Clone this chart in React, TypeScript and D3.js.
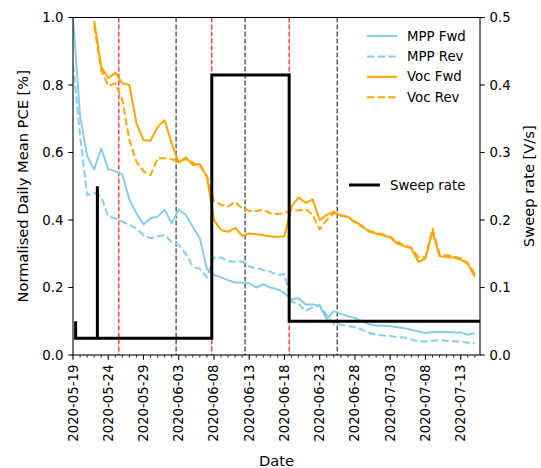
import React from "react";
import * as d3 from "d3";

const START = "2020-05-19";
const END_DAYS = 57.74;

const mppFwd = [1.0, 0.71, 0.59, 0.55, 0.612, 0.55, 0.545, 0.535, 0.46, 0.42, 0.387, 0.405, 0.41, 0.43, 0.39, 0.43, 0.415, 0.38, 0.345, 0.255, 0.237, 0.23, 0.222, 0.215, 0.215, 0.212, 0.2, 0.21, 0.2, 0.195, 0.183, 0.165, 0.168, 0.15, 0.15, 0.145, 0.106, 0.13, 0.122, 0.115, 0.11, 0.1, 0.092, 0.087, 0.087, 0.085, 0.082, 0.079, 0.075, 0.07, 0.065, 0.068, 0.068, 0.068, 0.067, 0.067, 0.06, 0.065];

const mppRev = [0.86, 0.65, 0.474, 0.48, 0.47, 0.41, 0.405, 0.395, 0.385, 0.375, 0.355, 0.346, 0.352, 0.356, 0.335, 0.326, 0.3, 0.262, 0.255, 0.23, 0.289, 0.289, 0.278, 0.276, 0.278, 0.262, 0.258, 0.252, 0.247, 0.237, 0.24, 0.158, 0.152, 0.131, 0.142, 0.148, 0.118, 0.092, 0.09, 0.085, 0.083, 0.075, 0.065, 0.06, 0.058, 0.056, 0.053, 0.052, 0.046, 0.04, 0.04, 0.042, 0.044, 0.042, 0.041, 0.04, 0.036, 0.035];

// Voc series start on day 3
const VOC_START_DAY = 3;
const vocFwd = [0.99, 0.855, 0.82, 0.836, 0.805, 0.8, 0.687, 0.637, 0.635, 0.676, 0.696, 0.627, 0.57, 0.585, 0.563, 0.566, 0.528, 0.4, 0.37, 0.365, 0.377, 0.353, 0.36, 0.358, 0.355, 0.352, 0.35, 0.352, 0.44, 0.467, 0.451, 0.461, 0.4, 0.415, 0.425, 0.412, 0.41, 0.395, 0.383, 0.365, 0.36, 0.355, 0.348, 0.33, 0.322, 0.316, 0.276, 0.286, 0.365, 0.293, 0.29, 0.289, 0.283, 0.27, 0.232];

const vocRev = [0.975, 0.844, 0.797, 0.805, 0.756, 0.637, 0.573, 0.545, 0.533, 0.583, 0.583, 0.58, 0.575, 0.58, 0.57, 0.56, 0.53, 0.457, 0.445, 0.44, 0.454, 0.435, 0.427, 0.427, 0.43, 0.42, 0.418, 0.42, 0.43, 0.428, 0.432, 0.415, 0.372, 0.4, 0.42, 0.415, 0.408, 0.393, 0.38, 0.368, 0.362, 0.357, 0.35, 0.335, 0.325, 0.318, 0.29, 0.29, 0.375, 0.298, 0.295, 0.292, 0.287, 0.273, 0.24];

const sweepTimes = ["2020-05-19T09:00", "2020-05-19T09:00", "2020-05-22T11:00", "2020-05-22T11:00", "2020-05-22T11:00", "2020-06-07T16:30", "2020-06-07T16:30", "2020-06-18T16:00", "2020-06-18T16:00", "2020-07-15T18:00"];
const sweepValues = [0.05, 0.025, 0.025, 0.25, 0.025, 0.025, 0.415, 0.415, 0.05, 0.05];

const redLines = ["2020-05-25T12:00", "2020-06-07T16:30", "2020-06-18T16:00"];
const blackLines = ["2020-06-02T15:00", "2020-06-12T10:00", "2020-06-25T11:30"];

const leftTicks = [0, 0.2, 0.4, 0.6, 0.8, 1.0];
const rightTicks = [0, 0.1, 0.2, 0.3, 0.4, 0.5];

const FONT = "DejaVu Sans";
const FS = 13.3;
const LABEL_FS = 14.67;

function parseDay(s: string) {
  return new Date(s + (s.length === 10 ? "T00:00" : ""));
}

export default function App() {
  const W = 541, H = 468;
  const L = 73, R = 480, T = 17.5, B = 355;
  const t0 = parseDay(START);
  const dayMs = 86400000;
  const x = d3.scaleTime().domain([t0, new Date(t0.getTime() + END_DAYS * dayMs)]).range([L, R]);
  const yL = d3.scaleLinear().domain([0, 1]).range([B, T]);
  const yR = d3.scaleLinear().domain([0, 0.5]).range([B, T]);
  const dayDate = (i: number) => new Date(t0.getTime() + i * dayMs);

  const lineL = d3.line<[Date, number]>().x(d => x(d[0])).y(d => yL(d[1]));
  const lineR = d3.line<[Date, number]>().x(d => x(d[0])).y(d => yR(d[1]));

  const mk = (arr: number[], off: number) => arr.map((v, i) => [dayDate(i + off), v] as [Date, number]);
  const series = [
    { name: "MPP Fwd", data: mk(mppFwd, 0), color: "#87CEEB", dash: "" },
    { name: "MPP Rev", data: mk(mppRev, 0), color: "#87CEEB", dash: "7.4,3.2" },
    { name: "Voc Fwd", data: mk(vocFwd, VOC_START_DAY), color: "#FFA500", dash: "" },
    { name: "Voc Rev", data: mk(vocRev, VOC_START_DAY), color: "#FFA500", dash: "7.4,3.2" },
  ];
  const sweep = sweepTimes.map((t, i) => [parseDay(t), sweepValues[i]] as [Date, number]);

  const nDays = Math.floor(END_DAYS);
  const minorDays = d3.range(0, nDays + 1).filter(d => d % 5 !== 0);
  const majorDays = d3.range(0, nDays + 1).filter(d => d % 5 === 0);
  const fmt = d3.timeFormat("%Y-%m-%d");

  const legendX = 367, legendTextX = 407;
  const legendY0 = 36, legendDy = 20.4;

  return (
    <svg width={W} height={H} style={{ position: "absolute", left: 0, top: 0, background: "#fff" }} fontFamily={FONT} fontSize={FS}>
      <defs>
        <clipPath id="plot">
          <rect x={L} y={T} width={R - L} height={B - T} />
        </clipPath>
      </defs>
      <rect x={0} y={0} width={W} height={H} fill="#fff" />
      <g clipPath="url(#plot)">
        {redLines.map((s, i) => (
          <line key={"r" + i} x1={x(parseDay(s))} x2={x(parseDay(s))} y1={T} y2={B} stroke="red" strokeWidth={1.1} strokeDasharray="4.9,2.1" />
        ))}
        {blackLines.map((s, i) => (
          <line key={"b" + i} x1={x(parseDay(s))} x2={x(parseDay(s))} y1={T} y2={B} stroke="#222" strokeWidth={1.1} strokeDasharray="4.9,2.1" />
        ))}
        {series.map(s => (
          <path key={s.name} d={lineL(s.data) || ""} fill="none" stroke={s.color} strokeWidth={2} strokeDasharray={s.dash || undefined} strokeLinejoin="round" />
        ))}
        <path d={lineR(sweep) || ""} fill="none" stroke="#000" strokeWidth={3} strokeLinejoin="miter" />
      </g>
      {/* spines */}
      <rect x={L} y={T} width={R - L} height={B - T} fill="none" stroke="#000" strokeWidth={1.07} />
      {/* x ticks */}
      {minorDays.map(d => (
        <line key={"mi" + d} x1={x(dayDate(d))} x2={x(dayDate(d))} y1={B} y2={B + 2.7} stroke="#000" strokeWidth={0.8} />
      ))}
      {majorDays.map(d => (
        <g key={"ma" + d}>
          <line x1={x(dayDate(d))} x2={x(dayDate(d))} y1={B} y2={B + 4.7} stroke="#000" strokeWidth={1.07} />
          <text transform={`translate(${x(dayDate(d))},${B + 9.5}) rotate(-90)`} textAnchor="end" dominantBaseline="central" fill="#000">
            {fmt(dayDate(d))}
          </text>
        </g>
      ))}
      {/* left ticks */}
      {leftTicks.map(v => (
        <g key={"l" + v}>
          <line x1={L - 4.7} x2={L} y1={yL(v)} y2={yL(v)} stroke="#000" strokeWidth={1.07} />
          <text x={L - 9.5} y={yL(v)} textAnchor="end" dominantBaseline="central" fill="#000">{v.toFixed(1)}</text>
        </g>
      ))}
      {/* right ticks */}
      {rightTicks.map(v => (
        <g key={"rt" + v}>
          <line x1={R} x2={R + 4.7} y1={yR(v)} y2={yR(v)} stroke="#000" strokeWidth={1.07} />
          <text x={R + 9.5} y={yR(v)} textAnchor="start" dominantBaseline="central" fill="#000">{v.toFixed(1)}</text>
        </g>
      ))}
      {/* axis labels */}
      <text transform={`translate(22,${(T + B) / 2}) rotate(-90)`} textAnchor="middle" dominantBaseline="central" fill="#000" fontSize={LABEL_FS}>Normalised Daily Mean PCE [%]</text>
      <text transform={`translate(528,${(T + B) / 2}) rotate(-90)`} textAnchor="middle" dominantBaseline="central" fill="#000" fontSize={LABEL_FS}>Sweep rate [V/s]</text>
      <text x={(L + R) / 2} y={466} textAnchor="middle" fill="#000" fontSize={LABEL_FS}>Date</text>
      {/* legend 1 */}
      {series.map((s, i) => (
        <g key={"lg" + s.name}>
          <line x1={legendX} x2={legendX + 30} y1={legendY0 + i * legendDy} y2={legendY0 + i * legendDy} stroke={s.color} strokeWidth={2} strokeDasharray={s.dash || undefined} />
          <text x={legendTextX} y={legendY0 + i * legendDy} dominantBaseline="central" fill="#000">{s.name}</text>
        </g>
      ))}
      {/* legend 2 */}
      <line x1={349} x2={380} y1={185} y2={185} stroke="#000" strokeWidth={3} />
      <text x={390} y={185} dominantBaseline="central" fill="#000">Sweep rate</text>
    </svg>
  );
}
